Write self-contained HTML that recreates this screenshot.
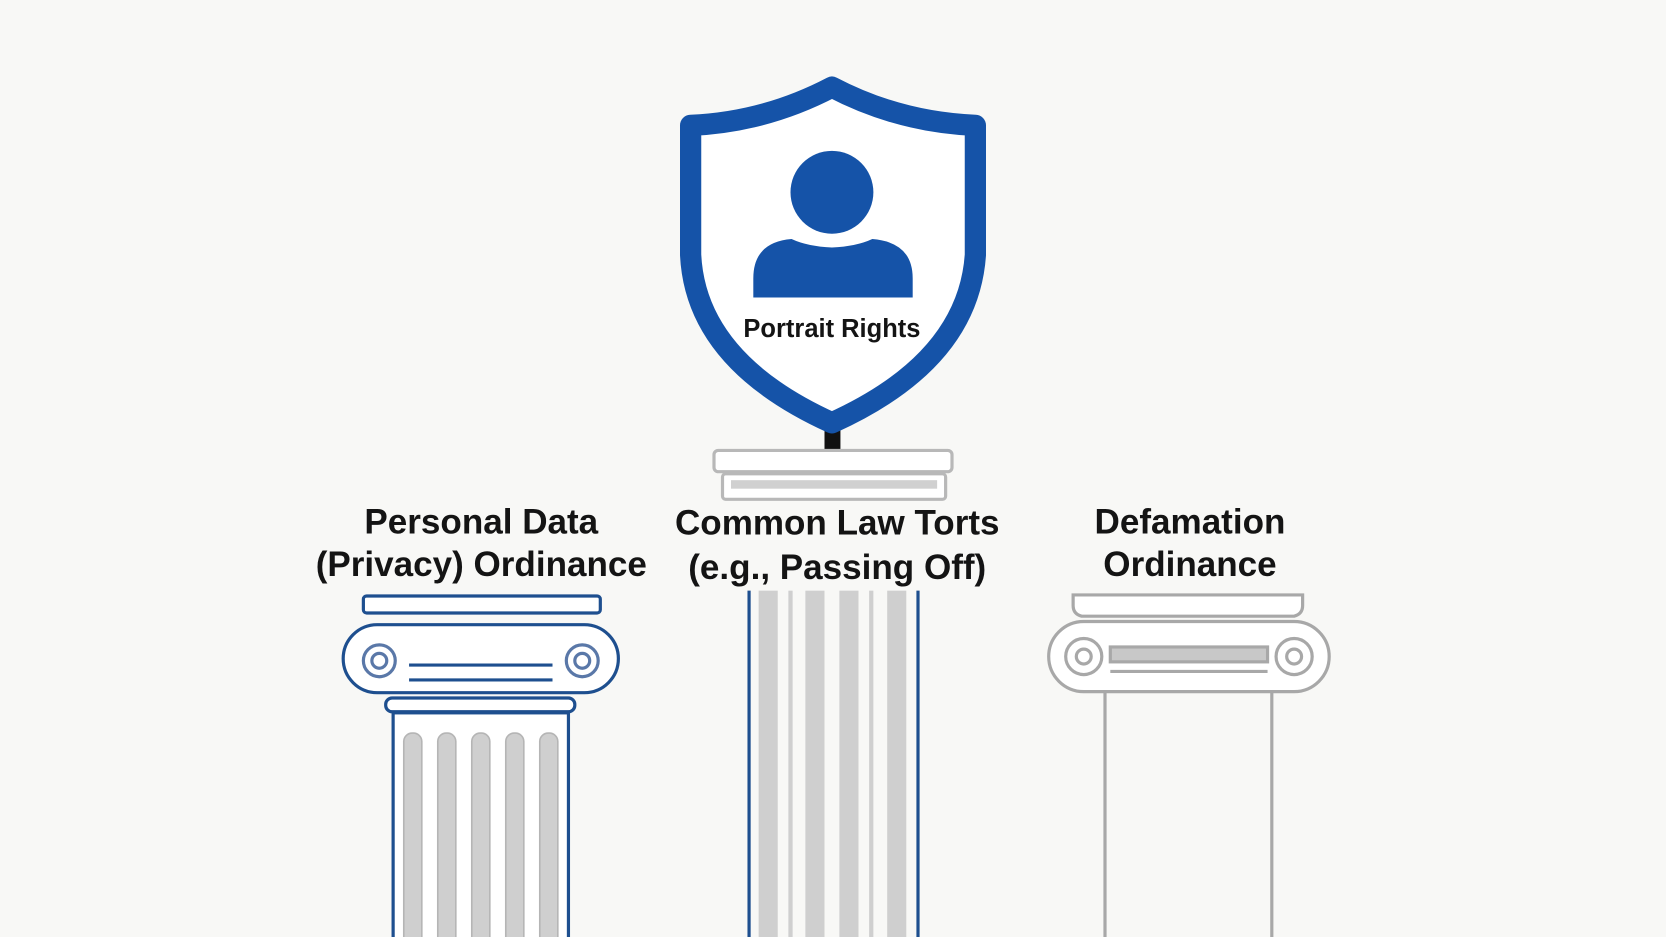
<!DOCTYPE html>
<html><head><meta charset="utf-8"><style>
html,body{margin:0;padding:0;background:#f8f8f6;}
svg{display:block}
text{font-family:"Liberation Sans","DejaVu Sans",sans-serif;font-weight:bold;fill:#141414;text-anchor:middle}
</style></head><body>
<svg width="1666" height="937" viewBox="0 0 1568 882" preserveAspectRatio="none">
<rect width="1568" height="882" fill="#f8f8f6"/>
<!-- Shield -->
<rect x="776" y="400" width="15" height="26" fill="#111"/>
<path d="M783 82 Q720 115 650 118 L650 240 Q655 340 783 398 Q911 340 918 240 L918 118 Q846 115 783 82 Z" fill="#fff" stroke="#1553a8" stroke-width="20" stroke-linejoin="round"/>
<circle cx="783" cy="181" r="39" fill="#1553a8"/>
<path d="M709 280 L709 262 Q709 228 745 225 Q760 232 783 233 Q806 232 821 225 Q859 228 859 262 L859 280 Z" fill="#1553a8"/>
<text x="783" y="317" font-size="24">Portrait Rights</text>
<!-- middle pedestal -->
<rect x="672" y="424" width="224" height="20" rx="4" fill="#fff" stroke="#b8b8b8" stroke-width="3"/>
<rect x="680" y="446" width="210" height="24" rx="3" fill="#fff" stroke="#b8b8b8" stroke-width="3"/>
<rect x="688" y="452" width="194" height="8" fill="#d0d0d0"/>
<!-- labels -->
<text x="453" y="502" font-size="33">Personal Data</text>
<text x="453" y="542" font-size="33">(Privacy) Ordinance</text>
<text x="788" y="503" font-size="33">Common Law Torts</text>
<text x="788" y="545" font-size="33">(e.g., Passing Off)</text>
<text x="1120" y="502" font-size="33">Defamation</text>
<text x="1120" y="542" font-size="33">Ordinance</text>
<!-- left column -->
<g stroke="#1e4f8f" stroke-width="3" fill="#fff">
<rect x="342" y="561" width="223" height="16" rx="3"/>
<path d="M355 588 L550 588 A32 32 0 0 1 550 652 L355 652 A32 32 0 0 1 355 588 Z"/>
<line x1="385" y1="626" x2="520" y2="626"/>
<line x1="385" y1="640" x2="520" y2="640"/>
<rect x="363" y="657" width="178" height="13" rx="6"/>
<rect x="370" y="671" width="165" height="230"/>
</g>
<g fill="none" stroke="#5a78a8" stroke-width="3">
<circle cx="357" cy="622" r="15"/><circle cx="357" cy="622" r="7"/>
<circle cx="548" cy="622" r="15"/><circle cx="548" cy="622" r="7"/>
</g>
<g fill="#cfcfcf" stroke="#b5b5b5" stroke-width="1.5">
<rect x="380" y="690" width="17" height="210" rx="8"/>
<rect x="412" y="690" width="17" height="210" rx="8"/>
<rect x="444" y="690" width="17" height="210" rx="8"/>
<rect x="476" y="690" width="17" height="210" rx="8"/>
<rect x="508" y="690" width="17" height="210" rx="8"/>
</g>
<!-- middle column shaft -->
<g fill="#cfcfcf">
<rect x="714" y="556" width="18" height="330"/>
<rect x="742" y="556" width="4" height="330"/>
<rect x="758" y="556" width="18" height="330"/>
<rect x="790" y="556" width="18" height="330"/>
<rect x="818" y="556" width="4" height="330"/>
<rect x="835" y="556" width="18" height="330"/>
</g>
<line x1="705" y1="556" x2="705" y2="882" stroke="#1e4f8f" stroke-width="3"/>
<line x1="864" y1="556" x2="864" y2="882" stroke="#1e4f8f" stroke-width="3"/>
<!-- right column -->
<g stroke="#a8a8a8" stroke-width="3" fill="#fff">
<path d="M1010 560 L1226 560 L1226 570 Q1226 578 1218 580 L1018 580 Q1010 578 1010 570 Z"/>
<path d="M1020 585 L1218 585 A33 33 0 0 1 1218 651 L1020 651 A33 33 0 0 1 1020 585 Z"/>
<rect x="1045" y="609" width="148" height="14" fill="#c8c8c8"/>
<line x1="1045" y1="632" x2="1193" y2="632"/>
<line x1="1040" y1="650" x2="1040" y2="882"/>
<line x1="1197" y1="650" x2="1197" y2="882"/>
</g>
<g fill="none" stroke="#a8a8a8" stroke-width="3">
<circle cx="1020" cy="618" r="17"/><circle cx="1020" cy="618" r="7"/>
<circle cx="1218" cy="618" r="17"/><circle cx="1218" cy="618" r="7"/>
</g>
</svg>
</body></html>
